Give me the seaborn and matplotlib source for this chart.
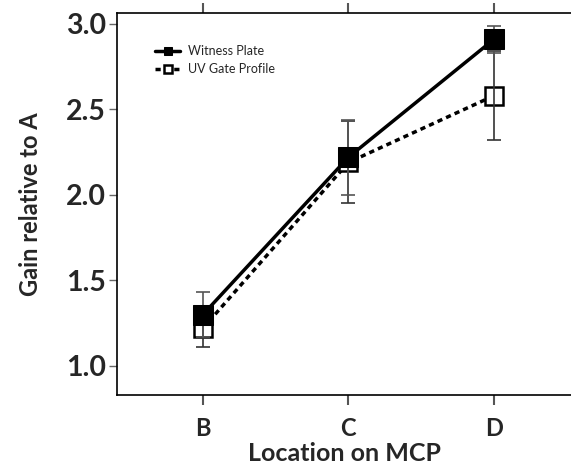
import matplotlib
matplotlib.use("Agg")
import matplotlib.pyplot as plt
import seaborn as sns
import pandas as pd
import numpy as np

locations = ["B", "C", "D"]
witness = [1.30, 2.22, 2.91]
witness_err = [0.13, 0.22, 0.08]
uv_gate = [1.22, 2.19, 2.58]
uv_err = [0.11, 0.24, 0.26]
series_names = ["Witness Plate", "UV Gate Profile"]
yticks = [1.0, 1.5, 2.0, 2.5, 3.0]

sns.set_style("white")
plt.rcParams["font.family"] = ["Lato", "DejaVu Sans"]

df = pd.DataFrame({
    "loc": locations * 2,
    "gain": witness + uv_gate,
    "series": [series_names[0]] * 3 + [series_names[1]] * 3,
})

fig = plt.figure(figsize=(5.71, 4.67), dpi=100)
ax = fig.add_axes([117 / 571, 1 - 395 / 467, (571 - 117) / 571, (395 - 13) / 467])

xpos = np.arange(len(locations))
ax.errorbar(xpos, uv_gate, yerr=uv_err, fmt="none", ecolor="#333333", elinewidth=1.2,
            capsize=5, capthick=1.2, zorder=4)
ax.errorbar(xpos, witness, yerr=witness_err, fmt="none", ecolor="#555555", elinewidth=1.2,
            capsize=5, capthick=1.2, zorder=4)

sns.lineplot(data=df[df.series == series_names[1]], x="loc", y="gain", ax=ax,
             color="black", lw=2.5, linestyle=(0, (1.5, 1.2)), marker="s", markersize=13,
             markerfacecolor="white", markeredgecolor="black", markeredgewidth=1.8,
             label=series_names[1], zorder=3)
sns.lineplot(data=df[df.series == series_names[0]], x="loc", y="gain", ax=ax,
             color="black", lw=2.5, marker="s", markersize=14,
             markerfacecolor="black", markeredgecolor="black",
             label=series_names[0], zorder=5)

ax.set_xlim(-0.59, 2.53)
ax.set_ylim(0.83, 3.064)
ax.set_xticks(xpos)
ax.set_xticklabels(locations, fontsize=17, fontweight="bold")
ax.set_yticks(yticks)
ax.set_yticklabels([f"{v:.1f}" for v in yticks], fontsize=20.5, fontweight="bold")
ax.set_xlabel("Location on MCP", fontsize=18, labelpad=1, fontweight="bold")
ax.set_ylabel("Gain relative to A", fontsize=17, labelpad=17, fontweight="bold")

for s in ["left", "bottom", "top"]:
    ax.spines[s].set_visible(True)
    ax.spines[s].set_color("black")
    ax.spines[s].set_linewidth(1.2)
ax.spines["right"].set_visible(False)

ax.tick_params(axis="y", direction="out", length=6, width=1, color="#666666", pad=2, left=True)
ax.tick_params(axis="x", direction="out", length=7, width=1.5, color="#555555", pad=9,
               bottom=True, top=True)

handles, labels = ax.get_legend_handles_labels()
order = [labels.index(series_names[0]), labels.index(series_names[1])]
ax.legend([handles[i] for i in order], [labels[i] for i in order], loc="upper left",
          bbox_to_anchor=(0.06, 0.945), frameon=False, fontsize=9, handlelength=2,
          markerscale=0.45, labelspacing=0.45, handletextpad=0.6)

fig.savefig("out.png", dpi=100)
